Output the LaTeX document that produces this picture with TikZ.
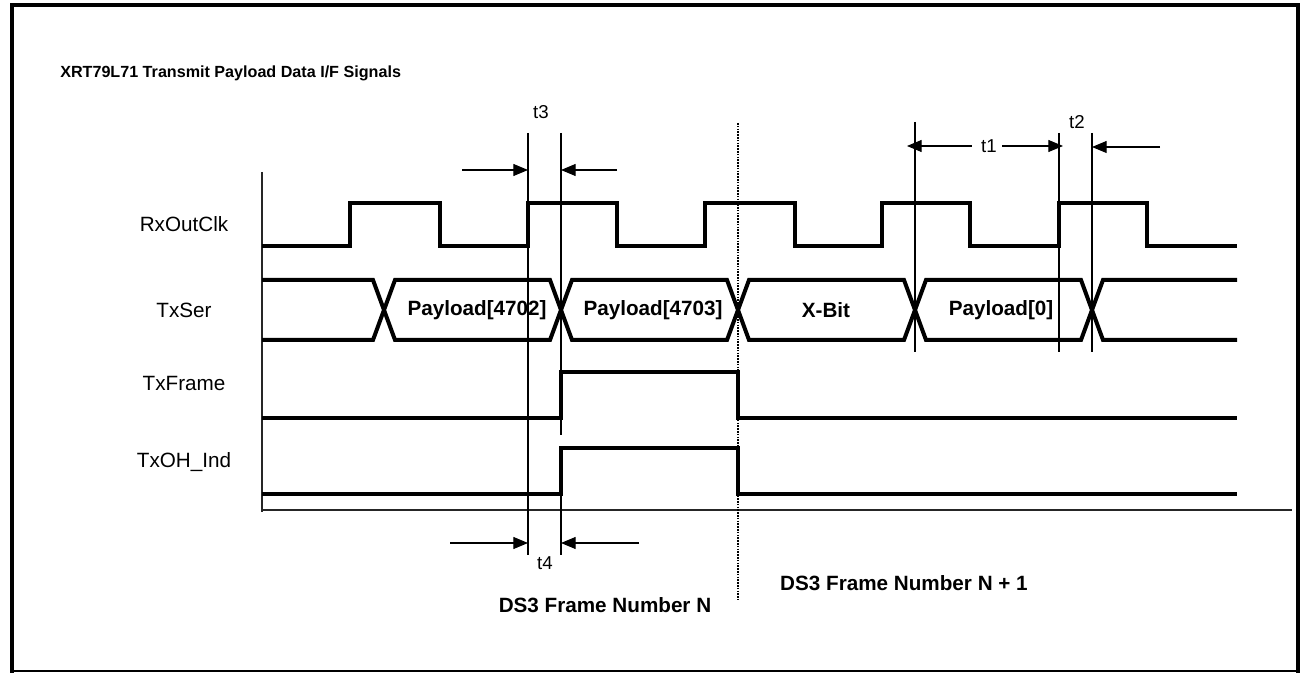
\documentclass[tikz,border=0pt]{standalone}
\usepackage{fontspec}
\setmainfont{Liberation Sans}
\usetikzlibrary{arrows.meta, positioning}
\tikzset{
    wave/.style={line width=3pt, line join=miter},
    guide/.style={line width=0.9pt},
    axis/.style={line width=1.3pt, black!85},
    frameline/.style={dash pattern=on 1.2pt off 0.9pt, line width=1.3pt},
    dim/.style={-{Triangle[length=11pt, width=9pt]}, line width=0.8pt},
    signame/.style={font=\fontsize{15.5}{18}\selectfont},
    tlabel/.style={font=\fontsize{14}{16}\selectfont, inner sep=1pt},
    cell/.style={font=\bfseries\fontsize{15.5}{18}\selectfont},
    heading/.style={font=\bfseries\fontsize{12.1}{15}\selectfont, anchor=west, inner sep=0pt}
}

\begin{document}
\begin{tikzpicture}[x=0.75pt, y=-0.75pt]
        	\useasboundingbox (0,0) rectangle (1304,673);
        	% Khung ngoai
        	\draw[line width=3pt] (12,673) -- (12,5) -- (1298,5) -- (1298,673);
        	\draw[line width=1.2pt] (12,671) -- (1298,671);
        	
        	\node (title) [heading] at (60,73) {XRT79L71 Transmit Payload Data I/F Signals};
        	
        	% Ten tin hieu
        	\node (clk) [signame] at (184,224) {RxOutClk};
        	\node (ser) [signame] at (184,310) {TxSer};
        	\node (frm) [signame] at (184,383) {TxFrame};
        	\node (ohi) [signame] at (184,462) {TxOH\_Ind};
        	
        	% Truc
        	\coordinate (o) at (262,510);
        	\coordinate (ytop) at (262,172);
        	\coordinate (xend) at (1292,510);
        	\draw[axis] (ytop) -- (o |- 0,512);
        	\draw[axis] (o) -- (xend);
        	
        	% RxOutClk
        	\draw[wave] (262,246) -| (350,203) -| (440,246) -| (528,203) -| (617,246) -| (705,203)
        		-| (795,246) -| (882,203) -| (970,246) -| (1059,203) -| (1147,246) -- (1237,246);
        	
        	% TxSer
        	\draw[wave] (262,280) -- (373,280) -- (384,310) -- (373,340) -- (262,340);
        	\draw[wave] (384,310) -- (395,280) -- (550,280) -- (561,310) -- (550,340) -- (395,340) -- cycle;
        	\draw[wave] (561,310) -- (572,280) -- (727,280) -- (738,310) -- (727,340) -- (572,340) -- cycle;
        	\draw[wave] (738,310) -- (749,280) -- (904,280) -- (915,310) -- (904,340) -- (749,340) -- cycle;
        	\draw[wave] (915,310) -- (926,280) -- (1081,280) -- (1092,310) -- (1081,340) -- (926,340) -- cycle;
        	\draw[wave] (1237,280) -- (1103,280) -- (1092,310) -- (1103,340) -- (1237,340);
        	\node (p4702) [cell] at (477,310) {Payload[4702]};
        	\node (p4703) [cell] at (653,310) {Payload[4703]};
        	\node (xbit) [cell] at (826,310) {X-Bit};
        	\node (p0) [cell] at (1001,310) {Payload[0]};
        	
        	% TxFrame, TxOH_Ind
        	\draw[wave] (262,418) -- (561,418) -- (561,372) -- (738,372) -- (738,418) -- (1237,418);
        	\draw[wave] (262,494) -- (561,494) -- (561,448) -- (738,448) -- (738,494) -- (1237,494);
        	
        	% Duong moc thoi gian
        	\coordinate (g3a) at (528,133);
        	\coordinate (g3b) at (561,133);
        	\coordinate (g4a) at (528,555);
        	\coordinate (g4b) at (561,555);
        	\coordinate (g1) at (915,122);
        	\coordinate (g2a) at (1059,133);
        	\coordinate (g2b) at (1092,133);
        	\coordinate (gN) at (738,123);
        	\draw[guide] (g3a) -- (g4a);
        	\draw[guide] (g3b) -- (561,435);
        	\draw[guide] (561,447) -- (g4b);
        	\draw[guide] (g1) -- (915,352);
        	\draw[guide] (g2a) -- (1059,352);
        	\draw[guide] (g2b) -- (1092,352);
        	\draw[frameline] (gN) -- (738,600);
        	
        	% t3, t4
        	\node (t3) [tlabel] at (541,112) {t3};
        	\coordinate (a3l) at (462,170);
        	\coordinate (a3r) at (617,170);
        	\draw[dim] (a3l) -- (a3l -| g3a);
        	\draw[dim] (a3r) -- (a3r -| g3b);
        	\node (t4) [tlabel] at (545,563) {t4};
        	\coordinate (a4l) at (450,543);
        	\coordinate (a4r) at (639,543);
        	\draw[dim] (a4l) -- (a4l -| g4a);
        	\draw[dim] (a4r) -- (a4r -| g4b);
        	
        	% t1, t2
        	\node (t1) [tlabel] at (989,146) {t1};
        	\draw[dim] ([xshift=-6pt]t1.west) -- ([xshift=-6pt]t1.west -| g1);
        	\draw[dim] ([xshift=3pt]t1.east) -- ([xshift=3pt]t1.east -| g2a);
        	\node (t2) [tlabel] at (1077,122) {t2};
        	\coordinate (a2r) at (1160,147);
        	\draw[dim] (a2r) -- (a2r -| g2b);
        	
        	% Khung DS3
        	\node (fN) [cell] at (605,605) {DS3 Frame Number N};
        	\node (fN1) [cell] at (904,583) {DS3 Frame Number N + 1};
        	
        \end{tikzpicture}
\end{document}
